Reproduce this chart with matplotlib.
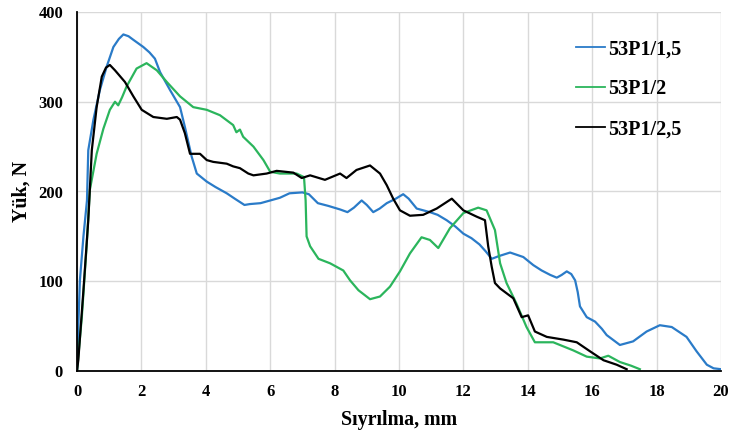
import matplotlib
matplotlib.use("Agg")
import matplotlib.pyplot as plt

# 53P1/1,5
x_a = [0.0, 0.05, 0.09, 0.2, 0.31, 0.35, 0.51, 0.71, 0.92, 1.13, 1.3, 1.44, 1.6, 1.75, 2.06, 2.25, 2.42, 2.58,
       2.89, 3.2, 3.35, 3.56, 3.72, 4.03, 4.3, 4.65, 4.9, 5.2, 5.37, 5.7, 6.0, 6.3, 6.6, 7.0, 7.2, 7.48, 7.8, 8.17,
       8.4, 8.6, 8.84, 9.0, 9.2, 9.4, 9.62, 9.9, 10.13, 10.3, 10.55, 10.96, 11.2, 11.48, 11.75, 12.0, 12.25,
       12.5, 12.7, 12.88, 13.1, 13.45, 13.86, 14.17, 14.43, 14.7, 14.9, 15.05, 15.21, 15.35, 15.47, 15.55, 15.62,
       15.83, 16.09, 16.3, 16.45, 16.86, 17.27, 17.69, 18.1, 18.47, 18.93, 19.24, 19.56, 19.77, 20.0]
y_a = [0, 60, 101, 150, 190, 246, 280, 313, 339, 361, 370, 375, 373, 369, 361, 355, 348, 333,
       313, 294, 272, 239, 220, 211, 205, 198, 192, 185, 186, 187, 190, 193, 198, 199, 197, 187, 184, 180,
       177, 182, 190, 185, 177, 181, 187, 192, 197, 192, 181, 177, 174, 168, 161, 153, 148,
       141, 133, 125, 128, 132, 127, 118, 112, 107, 104, 107, 111, 108, 101, 88, 72,
       60, 55, 47, 40, 29, 33, 44, 51, 49, 38, 22, 7, 3, 2]

# 53P1/2
x_b = [0.0, 0.15, 0.3, 0.4, 0.61, 0.82, 1.02, 1.18, 1.28, 1.4, 1.54, 1.85, 2.16, 2.48, 2.79, 3.2, 3.61, 4.03,
       4.44, 4.85, 4.95, 5.06, 5.16, 5.48, 5.79, 6.0, 6.3, 6.82, 7.05, 7.1, 7.13, 7.24, 7.5, 7.86, 8.27, 8.48,
       8.74, 9.1, 9.41, 9.72, 10.03, 10.34, 10.7, 10.96, 11.22, 11.58, 12.0, 12.46, 12.72, 12.85, 12.98, 13.14,
       13.34, 13.65, 13.96, 14.22, 14.79, 15.41, 15.83, 16.24, 16.5, 16.86, 17.2, 17.48]
y_b = [0, 60, 140, 202, 242, 270, 291, 300, 296, 305, 317, 337, 343, 335, 322, 306, 294, 291,
       285, 274, 266, 269, 261, 250, 235, 222, 220, 220, 216, 190, 150, 139, 125, 120, 112, 101,
       90, 80, 83, 94, 111, 131, 149, 146, 137, 159, 176, 182, 179, 168, 157, 120,
       98, 75, 49, 32, 32, 23, 16, 14, 17, 10, 6, 2]

# 53P1/2,5
x_c = [0.0, 0.04, 0.2, 0.35, 0.46, 0.61, 0.77, 0.9, 1.02, 1.18, 1.49, 1.75, 2.01, 2.37, 2.79, 3.1, 3.2, 3.35,
       3.51, 3.82, 4.03, 4.23, 4.65, 4.85, 5.06, 5.32, 5.48, 5.89, 6.2, 6.72, 6.98, 7.24, 7.7, 8.17, 8.37, 8.68,
       9.1, 9.41, 9.62, 9.82, 10.03, 10.34, 10.75, 11.17, 11.64, 12.0, 12.41, 12.67, 12.77, 12.88, 12.98, 13.14,
       13.55, 13.81, 14.01, 14.22, 14.59, 15.1, 15.52, 15.93, 16.35, 16.76, 17.07]
y_c = [0, 12, 90, 168, 246, 294, 328, 338, 341, 335, 322, 306, 291, 283, 281, 283, 280, 265,
       242, 242, 235, 233, 231, 228, 226, 220, 218, 220, 223, 221, 215, 218, 213, 220, 215, 224,
       229, 220, 207, 192, 179, 173, 174, 181, 192, 179, 172, 168, 139, 116, 98, 92,
       81, 60, 62, 44, 38, 35, 32, 22, 12, 7, 2]

series = [
    ("53P1/1,5", x_a, y_a, "#2a7bc8"),
    ("53P1/2", x_b, y_b, "#2bb55c"),
    ("53P1/2,5", x_c, y_c, "#000000"),
]

x_ticks = [0, 2, 4, 6, 8, 10, 12, 14, 16, 18, 20]
y_ticks = [0, 100, 200, 300, 400]

plt.rcParams["font.family"] = ["Liberation Serif", "DejaVu Serif"]
plt.rcParams["font.weight"] = "bold"

fig = plt.figure(figsize=(7.36, 4.36), dpi=100)
ax = fig.add_axes([77 / 736, 65 / 436, 644 / 736, 359 / 436])

for label, xs, ys, color in series:
    ax.plot(xs, ys, color=color, lw=1.6, label=label, solid_joinstyle="round")

ax.set_xlim(0, 20)
ax.set_ylim(0, 400)
ax.set_xticks(x_ticks)
ax.set_yticks(y_ticks)
ax.grid(True, color="#d9d9d9", lw=1.0)
ax.set_axisbelow(True)
for side in ("top", "right"):
    ax.spines[side].set_visible(False)
for side in ("left", "bottom"):
    ax.spines[side].set_color("#000000")
    ax.spines[side].set_linewidth(1.3)
ax.tick_params(length=0, labelsize=12)
ax.tick_params(axis="y", pad=10)
ax.tick_params(axis="x", pad=9)
for lbl in ax.get_xticklabels() + ax.get_yticklabels():
    lbl.set_fontweight("bold")

ax.set_xlabel("Sıyrılma, mm", fontsize=14.4, fontweight="bold", labelpad=7.5)
ax.set_ylabel("Yük, N", fontsize=14.4, fontweight="bold", labelpad=5)

leg = ax.legend(loc="upper right", bbox_to_anchor=(0.967, 0.975), frameon=False,
                prop={"size": 14.5, "weight": "bold"}, handlelength=1.45,
                handletextpad=0.15, labelspacing=1.0)
for handle in leg.get_lines():
    handle.set_linewidth(1.3)

fig.savefig("out.png", dpi=100)
